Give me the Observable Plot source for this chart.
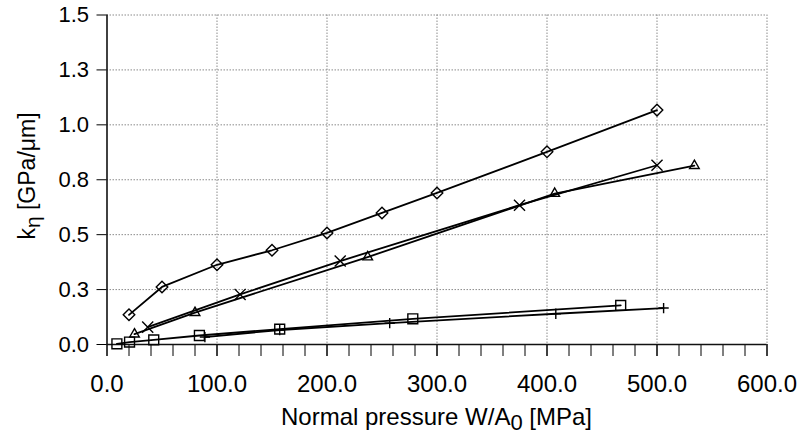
<!DOCTYPE html>
<html><head><meta charset="utf-8">
<script src="https://cdn.jsdelivr.net/npm/d3@7"></script>
<script src="https://cdn.jsdelivr.net/npm/@observablehq/plot@0.6"></script>
<style>body{margin:0;background:#fff} svg{display:block}</style>
</head><body><div id="chart"></div>
<script>
// Series data
const diamondX = [20, 50, 100, 150, 200, 250, 300, 400, 500];
const diamondY = [0.135, 0.262, 0.363, 0.429, 0.508, 0.599, 0.690, 0.877, 1.067];
const crossX = [37, 121, 212, 375, 500];
const crossY = [0.079, 0.228, 0.380, 0.634, 0.816];
const triangleX = [25, 80, 237, 407, 534];
const triangleY = [0.047, 0.145, 0.398, 0.687, 0.814];
const squareX = [9, 20.5, 42.5, 84, 157, 278, 467];
const squareY = [0.003, 0.011, 0.021, 0.041, 0.070, 0.117, 0.178];
const plusX = [89, 157, 257, 408, 506];
const plusY = [0.034, 0.066, 0.097, 0.140, 0.166];

// Ticks
const xTicks = [0, 100, 200, 300, 400, 500, 600];
const xTickLabels = ["0.0", "100.0", "200.0", "300.0", "400.0", "500.0", "600.0"];
const xMinor = d3.range(0, 601, 20);
const yTicks = [0, 0.25, 0.5, 0.75, 1.0, 1.25, 1.5];
const yTickLabels = ["0.0", "0.3", "0.5", "0.8", "1.0", "1.3", "1.5"];
const xGrid = [100, 200, 300, 400, 500, 600];
const yGrid = [0.25, 0.5, 0.75, 1.0, 1.25, 1.5];

const xLab = new Map(xTicks.map((t, i) => [t, xTickLabels[i]]));
const yLab = new Map(yTicks.map((t, i) => [t, yTickLabels[i]]));

const zip = (xs, ys) => xs.map((x, i) => ({x, y: ys[i]}));
const series = [
  {data: zip(diamondX, diamondY), symbol: "diamond2", r: 5.2},
  {data: zip(crossX, crossY), symbol: "times", r: 5.1},
  {data: zip(triangleX, triangleY), symbol: "triangle2", r: 4.6},
  {data: zip(squareX, squareY), symbol: "square2", r: 6.3},
  {data: zip(plusX, plusY), symbol: "plus", r: 3.4}
];

const gridStyle = {stroke: "#8a8a8a", strokeWidth: 1, strokeDasharray: "1.5,1.5"};

const chart = Plot.plot({
  width: 798, height: 438,
  marginLeft: 106.5, marginRight: 31.5, marginTop: 14.5, marginBottom: 94,
  style: {fontFamily: "'Liberation Sans', Arial, sans-serif", color: "#000", background: "#fff", overflow: "visible"},
  x: {domain: [0, 600]},
  y: {domain: [0, 1.5]},
  marks: [
    Plot.ruleX(xGrid, gridStyle),
    Plot.ruleY(yGrid, gridStyle),
    Plot.axisX({ticks: xMinor, tickSize: 12, tickFormat: () => "", label: null, strokeWidth: 1}),
    Plot.axisX({ticks: xTicks, tickSize: 12, tickPadding: 18, tickFormat: d => xLab.get(d), fontSize: 24, label: null, strokeWidth: 1}),
    Plot.axisY({ticks: yTicks, tickSize: 10, tickPadding: 8, tickFormat: d => yLab.get(d), fontSize: 22, label: null, strokeWidth: 1}),
    Plot.ruleX([0], {stroke: "#111", strokeWidth: 1.6}),
    Plot.ruleY([0], {stroke: "#111", strokeWidth: 1.6}),
    ...series.map(s => Plot.line(s.data, {x: "x", y: "y", stroke: "#000", strokeWidth: 1.8})),
    ...series.map(s => Plot.dot(s.data, {x: "x", y: "y", symbol: () => s.symbol, r: s.r, stroke: "#000", strokeWidth: 1.4, fill: "none"}))
  ]
});

const svg = d3.select(chart);
const xt = svg.append("text")
  .attr("x", 436.5).attr("y", 425)
  .attr("text-anchor", "middle")
  .attr("font-size", 24)
  .attr("fill", "#000");
xt.append("tspan").text("Normal pressure W/A");
xt.append("tspan").attr("dy", 5).attr("font-size", 22).text("0");
xt.append("tspan").attr("dy", -5).text(" [MPa]");

const yt = svg.append("text")
  .attr("transform", "translate(35,176) rotate(-90)")
  .attr("text-anchor", "middle")
  .attr("font-size", 23)
  .attr("fill", "#000");
yt.append("tspan").text("k");
yt.append("tspan").attr("dy", 5).attr("font-size", 21).text("η");
yt.append("tspan").attr("dy", -5).text(" [GPa/μm]");

document.getElementById("chart").appendChild(chart);
</script>
</body></html>
